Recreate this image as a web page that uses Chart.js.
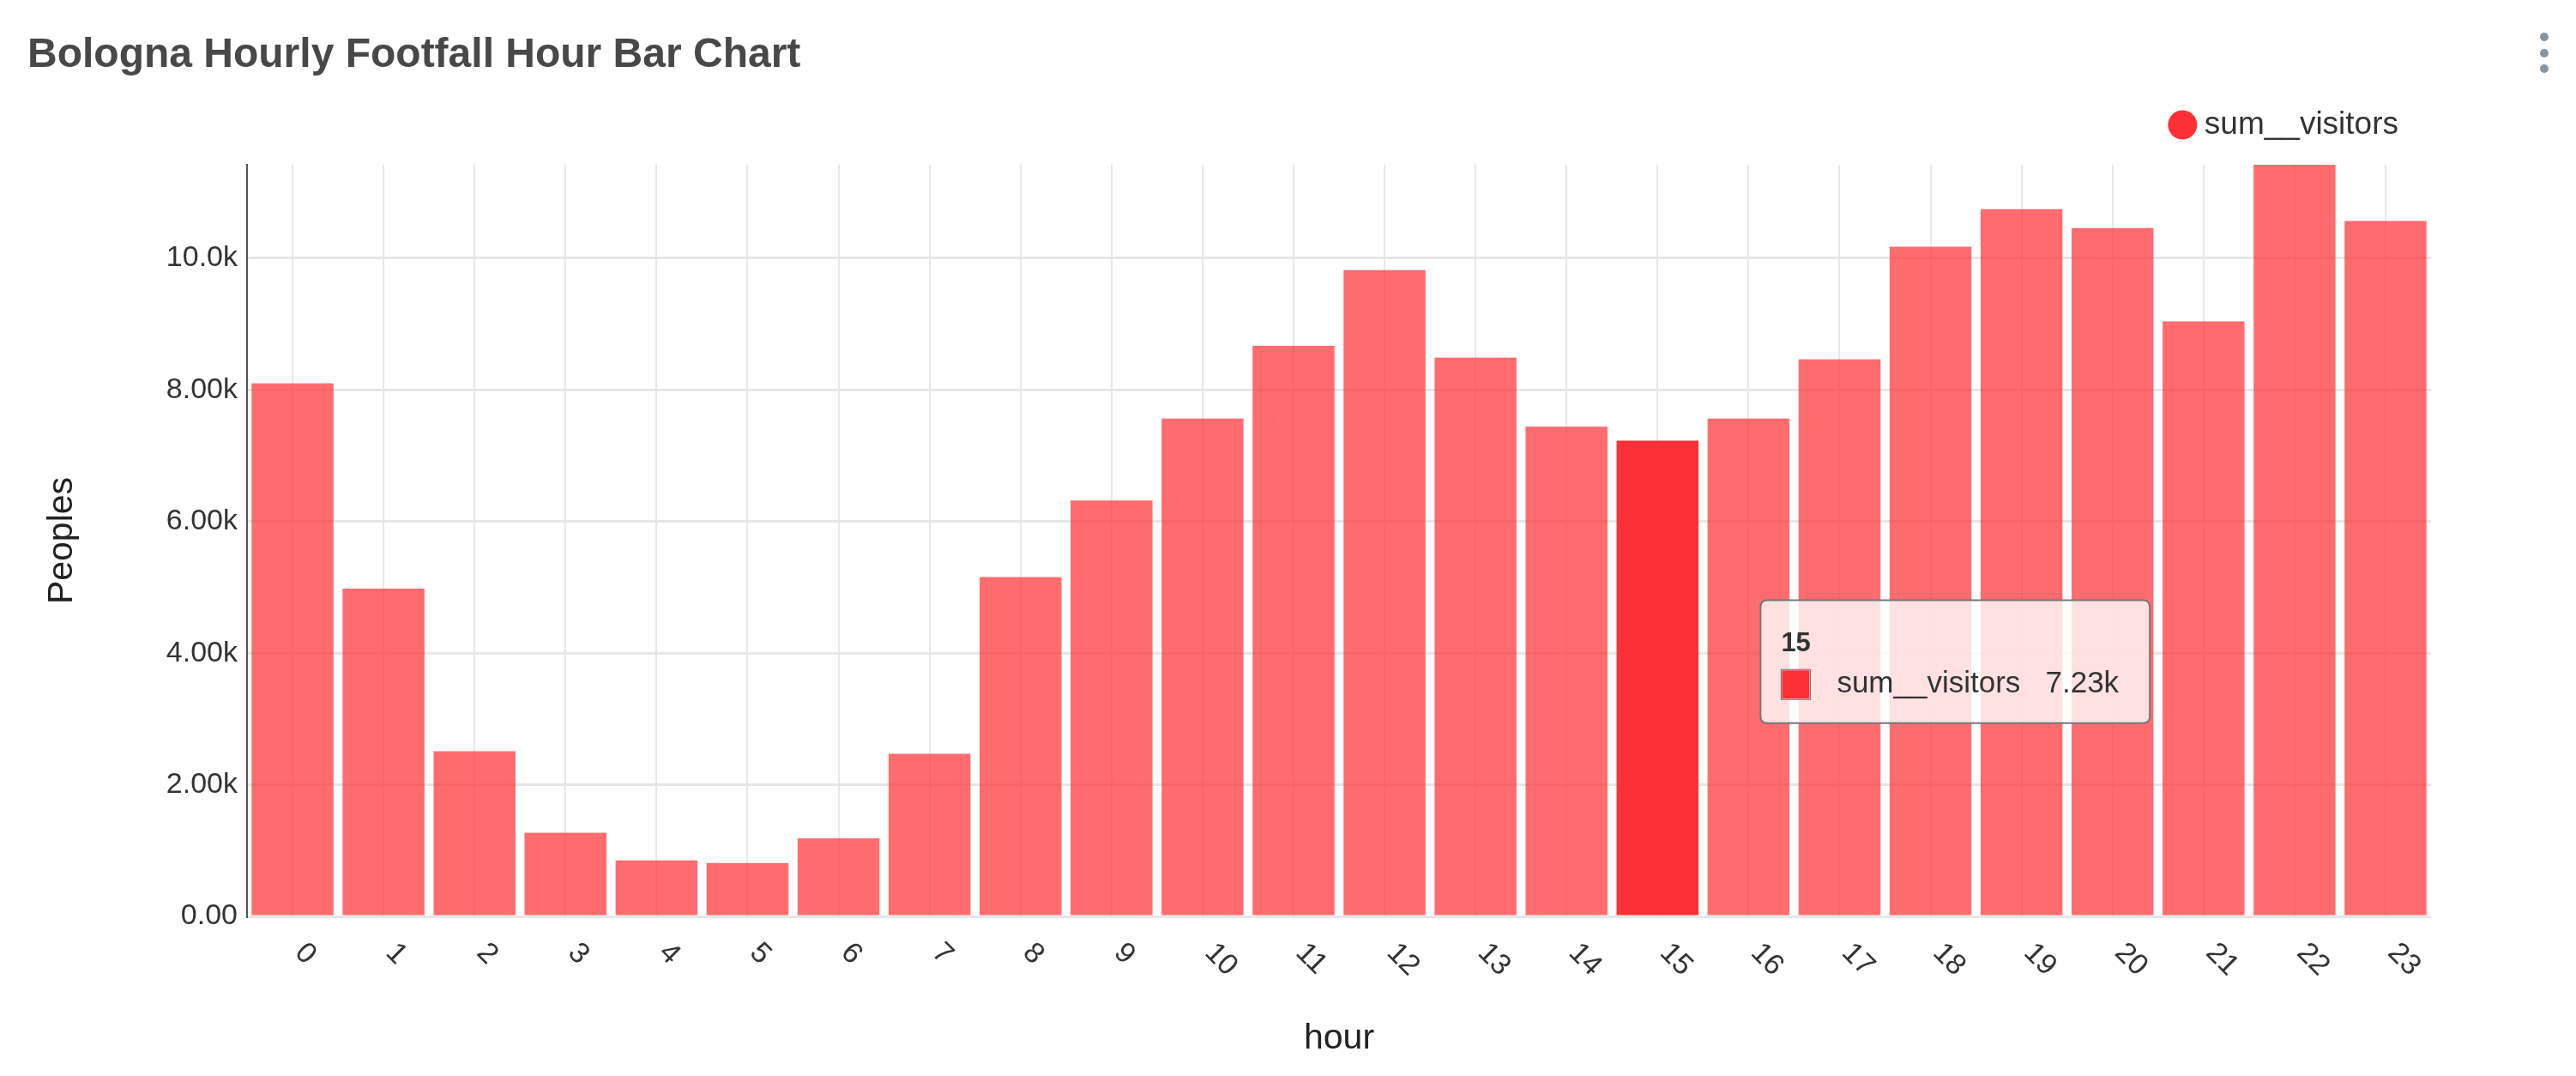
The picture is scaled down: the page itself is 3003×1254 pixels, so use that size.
<html>
  <head>
    <title>Bologna Hourly Footfall Hour Bar Chart</title>
    <script type="text/javascript" src="https://cdn.jsdelivr.net/npm/chart.js@4/dist/chart.umd.min.js"></script>
    <style>
      body { margin: 0; background: #fff; }
      canvas { display: block; }
    </style>
  </head>
  <body>
    <canvas id="FootfallChart" width="3003" height="1254"></canvas>
    <script>
      // hour of day (x categories)
      var hours = ['0', '1', '2', '3', '4', '5', '6', '7', '8', '9', '10', '11',
                   '12', '13', '14', '15', '16', '17', '18', '19', '20', '21', '22', '23'];
      // sum__visitors per hour
      var visitors = [8100, 4980, 2510, 1270, 850, 810, 1185, 2470, 5155, 6320, 7565, 8670,
                      9820, 8490, 7440, 7230, 7565, 8465, 10175, 10745, 10460, 9040, 11420, 10565];
      var yTickValues = [0, 2000, 4000, 6000, 8000, 10000];
      var activeHour = 15;

      var FONT = '"Liberation Sans", Arial, Helvetica, sans-serif';
      var barColor = 'rgba(255, 51, 56, 0.72)';
      var hoverColor = 'rgb(255, 48, 53)';

      Chart.defaults.font.family = FONT;

      // d3 ".3s" style: 0.00, 2.00k, 10.0k
      function fmt(v) {
        if (v === 0) return '0.00';
        return (v / 1000).toPrecision(3) + 'k';
      }

      // tooltip sits to the right of the pointer
      Chart.Tooltip.positioners.pointer = function(items, eventPosition) {
        return { x: eventPosition.x, y: eventPosition.y, xAlign: 'left', yAlign: 'center' };
      };

      // x labels are turned clockwise, starting at the tick
      var hourLabels = {
        id: 'hourLabels',
        afterDraw: function(chart) {
          var xs = chart.scales.x;
          var ctx = chart.ctx;
          ctx.save();
          ctx.font = '34px ' + FONT;
          ctx.fillStyle = '#333';
          ctx.textAlign = 'left';
          ctx.textBaseline = 'middle';
          hours.forEach(function(h, i) {
            ctx.save();
            ctx.translate(xs.getPixelForTick(i) + 8, xs.top + 37);
            ctx.rotate(Math.PI / 4);
            ctx.fillText(h, 0, 0);
            ctx.restore();
          });
          ctx.restore();
        }
      };

      // the little menu dots in the corner
      var menuDots = {
        id: 'menuDots',
        afterDraw: function(chart) {
          var ctx = chart.ctx;
          ctx.save();
          ctx.fillStyle = '#8796a3';
          [43, 62, 80].forEach(function(y) {
            ctx.beginPath();
            ctx.arc(chart.width - 37, y, 5, 0, Math.PI * 2);
            ctx.fill();
          });
          ctx.restore();
        }
      };

      var ctx = document.getElementById('FootfallChart').getContext('2d');
      var chart = new Chart(ctx, {
        type: 'bar',
        data: {
          labels: hours,
          datasets: [{
            label: 'sum__visitors',
            data: visitors,
            backgroundColor: barColor,
            hoverBackgroundColor: hoverColor,
            borderWidth: 0,
            categoryPercentage: 1.0,
            barPercentage: 0.9
          }]
        },
        plugins: [hourLabels, menuDots],
        options: {
          responsive: false,
          devicePixelRatio: 1,
          animation: false,
          layout: {
            padding: { left: 32, right: 169, top: 0, bottom: 0 }
          },
          plugins: {
            title: {
              display: true,
              text: 'Bologna Hourly Footfall Hour Bar Chart',
              align: 'start',
              color: '#484848',
              font: { size: 48, weight: 'bold', lineHeight: 1.0 },
              padding: { top: 41, bottom: 0 }
            },
            legend: {
              position: 'top',
              align: 'end',
              labels: {
                usePointStyle: true,
                pointStyle: 'circle',
                boxWidth: 14,
                boxHeight: 24,
                padding: 38,
                color: '#333',
                font: { size: 37 },
                generateLabels: function(c) {
                  return Chart.defaults.plugins.legend.labels.generateLabels(c).map(function(l) {
                    l.fillStyle = hoverColor;
                    l.strokeStyle = hoverColor;
                    l.lineWidth = 0;
                    return l;
                  });
                }
              }
            },
            tooltip: {
              position: 'pointer',
              backgroundColor: 'rgba(255, 255, 255, 0.8)',
              borderColor: '#777',
              borderWidth: 2,
              cornerRadius: 8,
              caretSize: 0,
              caretPadding: 0,
              padding: { top: 32, right: 36, bottom: 24, left: 24 },
              titleColor: '#333',
              titleFont: { size: 31, weight: 'bold' },
              titleMarginBottom: 8,
              bodyColor: '#333',
              bodyFont: { size: 35 },
              boxWidth: 34,
              boxHeight: 35,
              boxPadding: 29,
              callbacks: {
                title: function(items) { return items[0].label; },
                label: function(c) { return c.dataset.label + '   ' + fmt(c.parsed.y); },
                labelColor: function() {
                  return { borderColor: '#666', backgroundColor: hoverColor, borderWidth: 1 };
                }
              }
            }
          },
          scales: {
            x: {
              grid: { offset: false, color: '#e8e8e8', lineWidth: 2, drawTicks: false },
              border: { display: false },
              ticks: { display: false },
              title: {
                display: true,
                text: 'hour',
                color: '#222',
                font: { size: 41 },
                padding: { top: 0, bottom: 19 }
              },
              afterFit: function(axis) { axis.height = 186; }
            },
            // empty band between legend and plot
            gap: {
              type: 'category',
              position: 'top',
              grid: { display: false, drawTicks: false },
              border: { display: false },
              ticks: { display: false },
              afterFit: function(axis) { axis.height = 18; }
            },
            y: {
              min: 0,
              max: Math.max.apply(null, visitors),
              afterBuildTicks: function(axis) {
                axis.ticks = yTickValues.map(function(v) { return { value: v }; });
              },
              grid: { color: '#e6e6e6', lineWidth: 3, drawTicks: false },
              border: { display: true, color: '#555', width: 2 },
              ticks: {
                color: '#333',
                font: { size: 34 },
                padding: 11,
                callback: function(v) { return fmt(v); }
              },
              title: {
                display: true,
                text: 'Peoples',
                color: '#222',
                font: { size: 41 },
                padding: { top: 16, bottom: 0 }
              },
              afterFit: function(axis) { axis.width = 256; }
            }
          }
        }
      });

      // show the hovered bar and its tooltip, as in the screenshot
      var active = [{ datasetIndex: 0, index: activeHour }];
      chart.setActiveElements(active);
      chart.tooltip.setActiveElements(active, {
        x: chart.scales.x.getPixelForValue(activeHour + 1) + 14,
        y: chart.scales.y.getPixelForValue(3870)
      });
      chart.update();
    </script>
  </body>
</html>
